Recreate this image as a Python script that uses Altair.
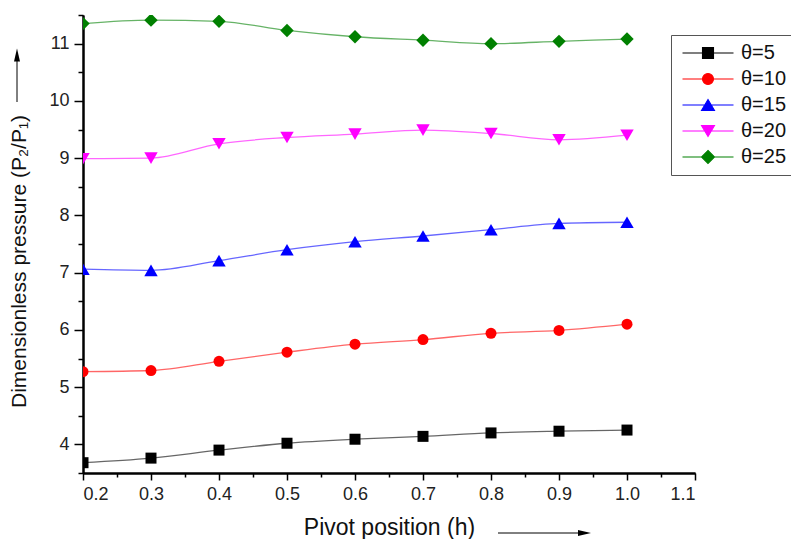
import altair as alt
import pandas as pd

# ---- data ----
pivot = [0.2, 0.3, 0.4, 0.5, 0.6, 0.7, 0.8, 0.9, 1.0]
series_names = ["θ=5", "θ=10", "θ=15", "θ=20", "θ=25"]
theta5 = [3.68, 3.76, 3.90, 4.02, 4.09, 4.14, 4.20, 4.23, 4.25]
theta10 = [5.27, 5.29, 5.45, 5.61, 5.75, 5.83, 5.94, 5.99, 6.10]
theta15 = [7.06, 7.04, 7.21, 7.40, 7.54, 7.64, 7.75, 7.86, 7.88]
theta20 = [8.99, 9.00, 9.25, 9.36, 9.42, 9.49, 9.43, 9.32, 9.40]
theta25 = [11.35, 11.41, 11.39, 11.23, 11.12, 11.06, 11.00, 11.04, 11.08]
x_ticks = [0.2, 0.3, 0.4, 0.5, 0.6, 0.7, 0.8, 0.9, 1.0, 1.1]
x_minor = [0.25, 0.35, 0.45, 0.55, 0.65, 0.75, 0.85, 0.95, 1.05]
y_ticks = [4, 5, 6, 7, 8, 9, 10, 11]
y_minor = [3.5, 4.5, 5.5, 6.5, 7.5, 8.5, 9.5, 10.5, 11.5]

all_series = [theta5, theta10, theta15, theta20, theta25]
rows = []
for name, vals in zip(series_names, all_series):
    for xv, yv in zip(pivot, vals):
        rows.append({"h": xv, "p": yv, "series": name})
df = pd.DataFrame(rows)

# ---- styling ----
FONT = "Liberation Sans"
colors = ["#000000", "#ff0000", "#0000ff", "#ff00ff", "#008000"]
marker_names = ["square", "circle", "triangle-up", "triangle-down", "diamond"]
marker_sizes = [121, 121, 180, 180, 180]
legend_paths = [
    "M-6.5,0H44.5M13.5,-5.5H24.5V5.5H13.5Z",
    "M-6.5,0H44.5M24.5,0A5.5,5.5,0,1,1,13.5,0A5.5,5.5,0,1,1,24.5,0Z",
    "M-6.5,0H44.5M19,-5.5L25.5,5.5H12.5Z",
    "M-6.5,0H44.5M19,5.5L25.5,-5.5H12.5Z",
    "M-6.5,0H44.5M19,-6.5L25.5,0L19,6.5L12.5,0Z",
]

W, H = 612, 458
xscale = alt.Scale(domain=[0.2, 1.1], nice=False, zero=False)
yscale = alt.Scale(domain=[3.5, 11.5], nice=False, zero=False)
cscale = alt.Scale(domain=series_names, range=colors)

base = alt.Chart(df)

x_minor_axis = alt.Axis(values=x_minor, labels=False, tickSize=4, tickWidth=1.5,
                        domain=True, domainWidth=2, domainColor="black",
                        tickColor="black", grid=False, title=None, orient="bottom")
y_minor_axis = alt.Axis(values=y_minor, labels=False, tickSize=5, tickWidth=1.5,
                        domain=True, domainWidth=2, domainColor="black",
                        tickColor="black", grid=False, title=None, orient="left")
x_major_axis = alt.Axis(values=x_ticks, format=".1f", tickSize=7, tickWidth=1.5,
                        domain=True, domainWidth=2, domainColor="black",
                        tickColor="black", grid=False, orient="bottom",
                        labelFont=FONT, labelFontSize=18, labelColor="#222",
                        labelPadding=5,
                        title="Pivot position (h)", titleFont=FONT, titleFontSize=23,
                        titleFontWeight="normal", titleColor="#111",
                        titleX=306, titleY=61, titleAlign="center",
                        titleBaseline="alphabetic", titleAnchor="middle")
y_major_axis = alt.Axis(values=y_ticks, format="d", tickSize=9, tickWidth=1.5,
                        domain=True, domainWidth=2, domainColor="black",
                        tickColor="black", grid=False, orient="left",
                        labelFont=FONT, labelFontSize=18, labelColor="#222",
                        labelPadding=5,
                        title="Dimensionless pressure (P₂/P₁)", titleFont=FONT,
                        titleFontSize=21, titleFontWeight="normal", titleColor="#111",
                        titleX=-64, titleY=246, titleAngle=-90, titleAlign="center",
                        titleBaseline="middle", titleAnchor="middle")

line_layers = []
point_layers = []
for i, (name, col, shp, sz) in enumerate(zip(series_names, colors, marker_names, marker_sizes)):
    filt = base.transform_filter(alt.datum.series == name)
    line_layers.append(filt.mark_line(
        interpolate="monotone", strokeWidth=1.3, opacity=0.6, color=col, clip=True
    ).encode(
        x=alt.X("h:Q", scale=xscale, axis=x_minor_axis if i == 0 else None),
        y=alt.Y("p:Q", scale=yscale, axis=y_minor_axis if i == 0 else None),
    ))
    point_layers.append(filt.mark_point(
        filled=True, strokeWidth=0, opacity=1, color=col, shape=shp, size=sz, clip=True
    ).encode(
        x=alt.X("h:Q", scale=xscale, axis=x_major_axis if i == 0 else None),
        y=alt.Y("p:Q", scale=yscale, axis=y_major_axis if i == 0 else None),
    ))

leg = alt.Legend(title=None, orient="none", legendX=588, legendY=20, padding=8,
                 strokeColor="#555", fillColor="white", symbolSize=4,
                 symbolStrokeWidth=1.1, symbolOpacity=1, labelOffset=42,
                 labelFont=FONT, labelFontSize=20, labelColor="#111",
                 rowPadding=6, labelLimit=200)

legend_layer = base.mark_point(filled=True, opacity=0, strokeWidth=1.1).encode(
    x=alt.X("h:Q", scale=xscale, axis=None),
    y=alt.Y("p:Q", scale=yscale, axis=None),
    fill=alt.Fill("series:N", scale=cscale, legend=leg),
    stroke=alt.Stroke("series:N", scale=cscale, legend=leg),
    shape=alt.Shape("series:N", scale=alt.Scale(domain=series_names, range=legend_paths),
                    legend=leg),
)

one = alt.Data(values=[{"a": 1}])
x_arrow = alt.Chart(one).mark_rule(color="black", strokeWidth=1).encode(
    x=alt.value(415), x2=alt.value(497), y=alt.value(518))
x_head = alt.Chart(one).mark_point(shape="M1,0L-1,0.45L-1,-0.45Z", filled=True,
                                   color="black", size=169, opacity=1).encode(
    x=alt.value(501.5), y=alt.value(518))
y_arrow = alt.Chart(one).mark_rule(color="black", strokeWidth=1).encode(
    x=alt.value(-66), y=alt.value(87), y2=alt.value(44))
y_head = alt.Chart(one).mark_point(shape="M0,-1L0.46,1L-0.46,1Z", filled=True,
                                   color="black", size=169, opacity=1).encode(
    x=alt.value(-66), y=alt.value(40))

chart = alt.layer(*line_layers, *point_layers, legend_layer,
                  x_arrow, x_head, y_arrow, y_head).resolve_axis(
    x="independent", y="independent"
).properties(
    width=W, height=H,
    autosize=alt.AutoSizeParams(type="none"),
    padding={"left": 83, "top": 15, "right": 96, "bottom": 66},
    background="white",
).configure_view(stroke=None)

chart.save("out.html", embed_options={"renderer": "svg", "actions": False})
